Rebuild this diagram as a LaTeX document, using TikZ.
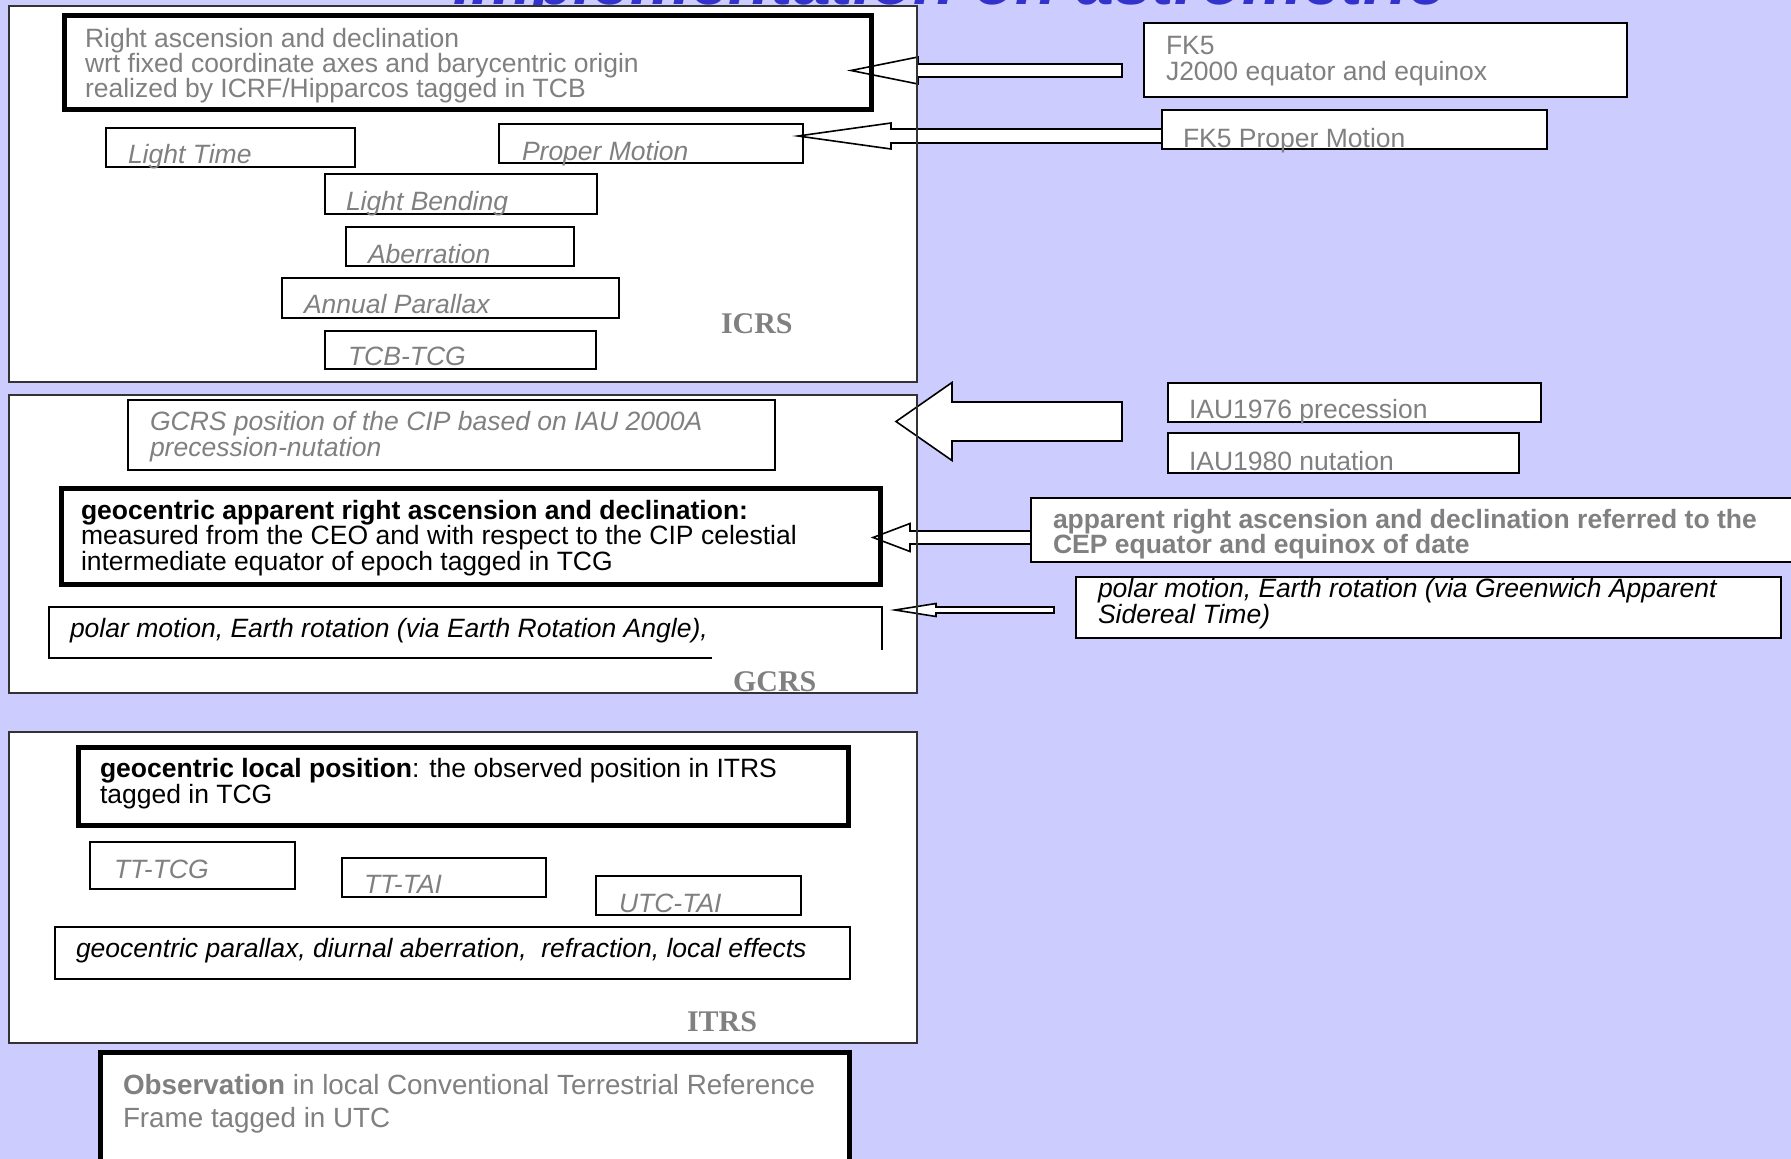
\documentclass[tikz,border=0pt]{standalone}
\usepackage{fontspec}
\setmainfont{Liberation Sans}
\newfontfamily\labelfont{Liberation Serif}
\usetikzlibrary{positioning,calc}
\definecolor{slide}{RGB}{204,204,255}
\definecolor{heading}{RGB}{51,51,204}
\definecolor{dim}{RGB}{128,128,128}

% hollow block arrow: tail, tip, half shaft, half head, head length
\newcommand{\fatarrow}[5]{%
  \draw[hollow] let \p1=(#1), \p2=(#2) in
    (\x1,\y2+#3) -- (\x2+#5,\y2+#3) -- (\x2+#5,\y2+#4) -- (\p2)
    -- (\x2+#5,\y2-#4) -- (\x2+#5,\y2-#3) -- (\x1,\y2-#3) -- cycle;}

\begin{document}
\begin{tikzpicture}[x=1pt, y=-1pt,
    every node/.style={inner sep=0pt, outer sep=0pt},
    frame/.style={rectangle, anchor=north west, fill=white},
    rim/.style={draw=black!80, line width=1.6pt},
    box/.style={rectangle, anchor=north west, draw, line width=1.8pt},
    pane/.style={box, fill=white},
    heavy/.style={box, line width=5pt},
    txt/.style={anchor=base west, align=left, font=\fontsize{26.5}{25}\selectfont},
    dimtxt/.style={txt, text=dim},
    effect/.style={dimtxt, font=\fontsize{26.5}{25}\selectfont\itshape},
    system/.style={anchor=base west, text=dim, font=\fontsize{30}{30}\labelfont\bfseries},
    hollow/.style={draw, fill=white, line width=1.6pt, line join=miter}
  ]
  \fill[slide] (0,0) rectangle (1791,1159);
  \useasboundingbox (0,0) rectangle (1791,1159);

  % title, cut by the top of the page
  \node[anchor=base west, text=heading, font=\fontsize{68}{70}\selectfont\bfseries\itshape] (title) at (453,5) {implementation on astrometric};

  % the three systems
  \node[frame, minimum width=908pt, minimum height=376pt] (icrs) at (9,6) {};
  \node[frame, minimum width=908pt, minimum height=298pt] (gcrs) at (9,395) {};
  \node[frame, minimum width=908pt, minimum height=311pt] (itrs) at (9,732) {};

  % arrows
  \coordinate (a1s) at (1122,70.5);  \coordinate (a1e) at (851,70.5);
  \coordinate (a2s) at (1162,136);   \coordinate (a2e) at (798,136);
  \coordinate (a3s) at (1122,421.5); \coordinate (a3e) at (896,421.5);
  \coordinate (a4s) at (1031,537.5); \coordinate (a4e) at (873,537.5);
  \coordinate (a5s) at (1054,610);   \coordinate (a5e) at (895,610);
  \fatarrow{a1s}{a1e}{6.5pt}{13.5pt}{67pt}
  \fatarrow{a2s}{a2e}{7pt}{13pt}{93pt}
  \fatarrow{a3s}{a3e}{19.5pt}{39pt}{56pt}
  \fatarrow{a4s}{a4e}{6.5pt}{14pt}{37pt}
  \fatarrow{a5s}{a5e}{3pt}{6.5pt}{41pt}

  \draw[rim] (icrs.north west) rectangle (icrs.south east);
  \draw[rim] (gcrs.north west) rectangle (gcrs.south east);
  \draw[rim] (itrs.north west) rectangle (itrs.south east);

  % ICRS (multi-line texts sit on their last line)
  \node[heavy, minimum width=807pt, minimum height=94pt] (ra) at (64.5,15.5) {};
  \node[dimtxt] (rat) at (85,97) {Right ascension and declination\\wrt fixed coordinate axes and barycentric origin\\realized by ICRF/Hipparcos tagged in TCB};
  \node[box, minimum width=249pt, minimum height=39pt] (lt) at (106,128) {};
  \node[effect] (ltt) at (128,163) {Light Time};
  \node[box, minimum width=304pt, minimum height=39pt] (pm) at (499,124) {};
  \node[effect] (pmt) at (522,160) {Proper Motion};
  \node[box, minimum width=272pt, minimum height=40pt] (lb) at (325,174) {};
  \node[effect] (lbt) at (346,210) {Light Bending};
  \node[box, minimum width=228pt, minimum height=39pt] (ab) at (346,227) {};
  \node[effect] (abt) at (368,263) {Aberration};
  \node[box, minimum width=337pt, minimum height=40pt] (ap) at (282,278) {};
  \node[effect] (apt) at (304,313) {Annual Parallax};
  \node[box, minimum width=271pt, minimum height=38pt] (tcb) at (325,331) {};
  \node[effect] (tcbt) at (348,365) {TCB-TCG};
  \node[system] (icrsl) at (721,333) {ICRS};

  \node[pane, minimum width=483pt, minimum height=74pt] (fk) at (1144,23) {};
  \node[dimtxt, font=\fontsize{26.5}{26}\selectfont] (fkt) at (1166,80) {FK5\\J2000 equator and equinox};
  \node[pane, minimum width=385pt, minimum height=39pt] (fkpm) at (1162,110) {};
  \node[dimtxt] (fkpmt) at (1183,147) {FK5 Proper Motion};

  % GCRS
  \node[box, minimum width=647pt, minimum height=70pt] (cip) at (128,400) {};
  \node[effect, font=\fontsize{26.5}{24}\selectfont\itshape] (cipt) at (150,456) {GCRS position of the CIP based on IAU 2000A\\precession-nutation};
  \node[heavy, minimum width=819pt, minimum height=96pt] (gar) at (61.5,488.5) {};
  \node[txt, font=\fontsize{26.5}{25.5}\selectfont] (gart) at (81,570) {\textbf{geocentric apparent right ascension and declination:}\\measured from the CEO and with respect to the CIP celestial\\intermediate equator of epoch tagged in TCG};
  \node[minimum width=833pt, minimum height=51pt, anchor=north west] (pol) at (49,607) {};
  \draw[line width=1.8pt] ([yshift=8pt]pol.south east) -- (pol.north east) -- (pol.north west) -- (pol.south west) -- ([xshift=-170pt]pol.south east);
  \node[txt, font=\fontsize{26.5}{25}\selectfont\itshape] (polt) at (70,637) {polar motion, Earth rotation (via Earth Rotation Angle),};
  \node[system] (gcrsl) at (733,691) {GCRS};

  \node[pane, minimum width=373pt, minimum height=39pt] (iau76) at (1168,383) {};
  \node[dimtxt] (iau76t) at (1189,418) {IAU1976 precession};
  \node[pane, minimum width=351pt, minimum height=40pt] (iau80) at (1168,433) {};
  \node[dimtxt] (iau80t) at (1189,470) {IAU1980 nutation};
  \node[pane, minimum width=800pt, minimum height=64pt] (apr) at (1031,498) {};
  \node[dimtxt, font=\fontsize{26.5}{25}\selectfont\bfseries] (aprt) at (1053,553) {apparent right ascension and declination referred to the\\CEP equator and equinox of date};
  \node[pane, minimum width=705pt, minimum height=61pt] (gast) at (1076,577) {};
  \node[txt, font=\fontsize{26.5}{24}\selectfont\itshape] (gastt) at (1098,623) {polar motion, Earth rotation (via Greenwich Apparent\\Sidereal Time)};

  % ITRS
  \node[heavy, minimum width=770pt, minimum height=78pt] (glp) at (78.5,747.5) {};
  \node[txt, font=\fontsize{26.5}{26}\selectfont] (glpt) at (100,803) {\textbf{geocentric local position}: the observed position in ITRS\\tagged in TCG};
  \node[box, minimum width=205pt, minimum height=47pt] (tttcg) at (90,842) {};
  \node[effect] (tttcgt) at (114,878) {TT-TCG};
  \node[box, minimum width=204pt, minimum height=39pt] (tttai) at (342,858) {};
  \node[effect] (tttait) at (364,893) {TT-TAI};
  \node[box, minimum width=205pt, minimum height=39pt] (utc) at (596,876) {};
  \node[effect] (utct) at (619,912) {UTC-TAI};
  \node[box, minimum width=795pt, minimum height=52pt] (gpx) at (55,927) {};
  \node[txt, font=\fontsize{26.5}{25}\selectfont\itshape] (gpxt) at (76,957) {geocentric parallax, diurnal aberration,~ refraction, local effects};
  \node[system] (itrsl) at (687,1031) {ITRS};

  \node[heavy, fill=white, minimum width=748.5pt, minimum height=160pt] (obs) at (100.5,1052.5) {};
  \node[dimtxt, font=\fontsize{27.8}{33}\selectfont] (obst) at (123,1127) {\textbf{Observation} in local Conventional Terrestrial Reference\\Frame tagged in UTC};
\end{tikzpicture}
\end{document}
